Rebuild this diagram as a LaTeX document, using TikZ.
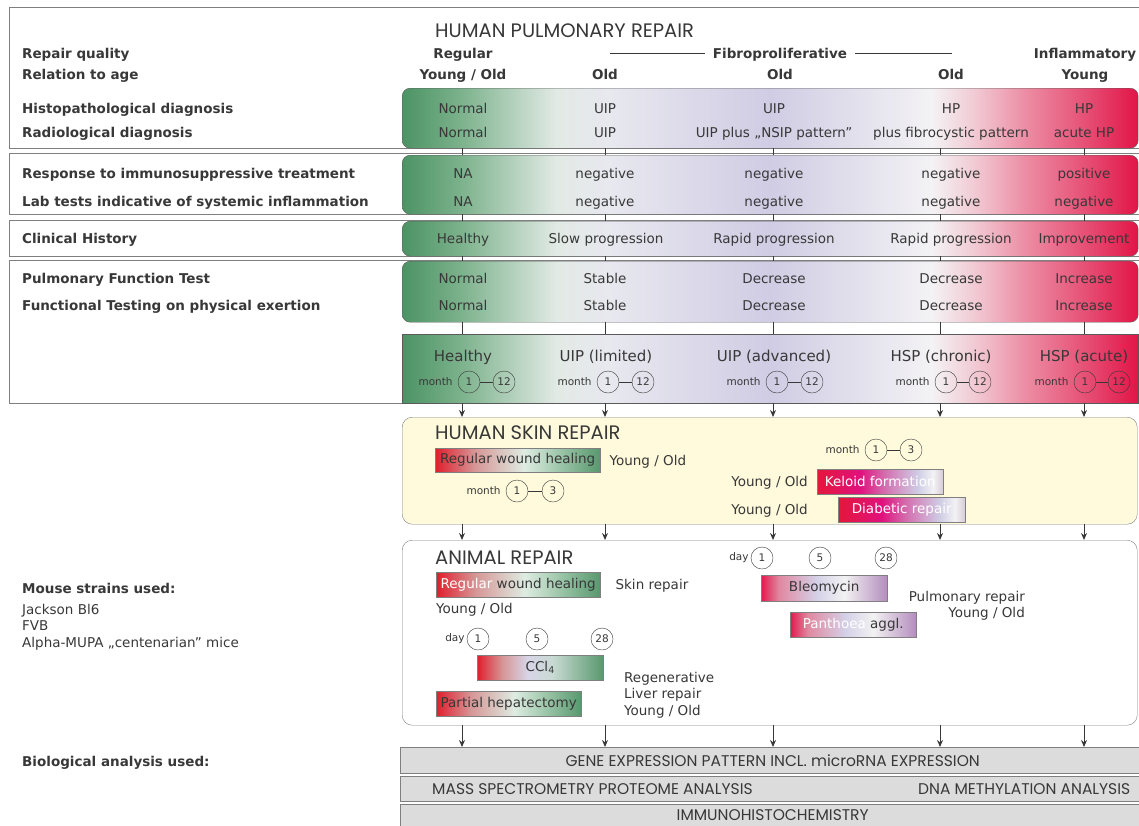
\documentclass[tikz,border=0pt]{standalone}
\usepackage{fontspec}
\setmainfont{DejaVu Sans}
\newfontfamily\headfont{Poppins}
\usetikzlibrary{positioning,arrows.meta}
\definecolor{ink}{HTML}{383838}
\definecolor{framegray}{HTML}{7F7F7F}
\definecolor{baredge}{HTML}{5A5A5A}
\definecolor{skincream}{HTML}{FFFADC}
\definecolor{assaygray}{HTML}{DCDCDC}
\definecolor{pgreenA}{RGB}{76,147,100}
\definecolor{pgreenB}{RGB}{124,178,140}
\definecolor{pwhiteA}{RGB}{226,234,229}
\definecolor{pwhiteB}{RGB}{232,232,239}
\definecolor{plav}{RGB}{208,204,228}
\definecolor{pwhiteC}{RGB}{243,242,244}
\definecolor{ppinkA}{RGB}{241,200,210}
\definecolor{ppinkB}{RGB}{236,138,162}
\definecolor{ppinkC}{RGB}{230,78,116}
\definecolor{pred}{RGB}{225,21,71}
\definecolor{wred}{RGB}{224,30,45}
\definecolor{wpink}{RGB}{214,150,150}
\definecolor{wmint}{RGB}{222,236,226}
\definecolor{wgreenA}{RGB}{160,200,172}
\definecolor{wgreenB}{RGB}{88,152,110}
\definecolor{kred}{RGB}{228,23,58}
\definecolor{kmagenta}{RGB}{224,17,125}
\definecolor{kviolet}{RGB}{212,112,176}
\definecolor{klav}{RGB}{207,205,229}
\definecolor{kwhite}{RGB}{243,242,244}
\definecolor{kend}{RGB}{214,202,214}
\definecolor{bcrimson}{RGB}{226,26,78}
\definecolor{bpink}{RGB}{224,136,160}
\definecolor{blav}{RGB}{212,209,232}
\definecolor{bwhite}{RGB}{242,242,242}
\definecolor{bpurple}{RGB}{180,140,190}
\definecolor{clav}{RGB}{216,213,232}
\definecolor{cmint}{RGB}{200,218,210}
\pgfdeclarehorizontalshading{pulmoshade}{100bp}{color(0bp)=(pgreenA); color(25bp)=(pgreenA); color(29bp)=(pgreenB); color(35.5bp)=(pwhiteA); color(39bp)=(pwhiteB); color(50bp)=(plav); color(61bp)=(pwhiteC); color(64bp)=(ppinkA); color(67.5bp)=(ppinkB); color(71.5bp)=(ppinkC); color(75bp)=(pred); color(100bp)=(pred)}
\pgfdeclarehorizontalshading{woundshade}{100bp}{color(0bp)=(wred); color(25bp)=(wred); color(37bp)=(wpink); color(52bp)=(wmint); color(62bp)=(wgreenA); color(75bp)=(wgreenB); color(100bp)=(wgreenB)}
\pgfdeclarehorizontalshading{keloidshade}{100bp}{color(0bp)=(kred); color(25bp)=(kred); color(42bp)=(kmagenta); color(52bp)=(kviolet); color(65bp)=(klav); color(71bp)=(kwhite); color(75bp)=(kend); color(100bp)=(kend)}
\pgfdeclarehorizontalshading{bleoshade}{100bp}{color(0bp)=(bcrimson); color(25bp)=(bcrimson); color(32bp)=(bpink); color(47bp)=(blav); color(58bp)=(bwhite); color(75bp)=(bpurple); color(100bp)=(bpurple)}
\pgfdeclarehorizontalshading{cclshade}{100bp}{color(0bp)=(wred); color(25bp)=(wred); color(35bp)=(wpink); color(45bp)=(clav); color(55bp)=(cmint); color(75bp)=(wgreenB); color(100bp)=(wgreenB)}
\tikzset{
    frame-box/.style = {draw=framegray, fill=white, rectangle, anchor=north west, inner sep=0pt, minimum width=1136pt},
    pulmo-bar/.style = {draw=baredge, shade, shading=pulmoshade, rectangle, rounded corners=8pt, anchor=north west, inner sep=0pt, minimum width=736pt},
    repair-box/.style = {draw=framegray, rectangle, rounded corners=10pt, anchor=north west, inner sep=0pt, minimum width=735pt},
    grad-box/.style = {draw=framegray, shade, rectangle, anchor=north west, inner sep=0pt, minimum height=25pt, text=ink, font=\fontsize{13.5}{15}\selectfont},
    assay-box/.style = {draw=framegray, fill=assaygray, rectangle, anchor=north west, inner sep=0pt, minimum width=745pt, text=ink, font=\headfont\fontsize{15.5}{17}\selectfont},
    assay-text/.style = {text=ink, font=\headfont\fontsize{15.5}{17}\selectfont, inner sep=0pt},
    head/.style = {anchor=west, inner sep=0pt, text=ink, font=\headfont\fontsize{19.5}{22}\selectfont},
    row-label/.style = {anchor=west, inner sep=0pt, text=ink, font=\bfseries\fontsize{13.5}{16}\selectfont, text height=10pt, text depth=0pt},
    col-head/.style = {inner sep=0pt, text=ink, font=\bfseries\fontsize{13.5}{16}\selectfont, text height=10pt, text depth=0pt},
    cell/.style = {inner sep=0pt, text=ink, font=\fontsize{13.5}{16}\selectfont, text height=10pt, text depth=0pt},
    big-cell/.style = {inner sep=0pt, text=ink, font=\fontsize{15}{18}\selectfont, text height=11pt, text depth=0pt},
    note/.style = {inner sep=0pt, text=ink, font=\fontsize{13.5}{16.5}\selectfont},
    tick-circle/.style = {circle, draw=ink, minimum size=22pt, inner sep=0pt, text=ink, font=\fontsize{10.5}{12}\selectfont},
    tick-label/.style = {inner sep=0pt, text=ink, font=\fontsize{10.5}{12}\selectfont},
    col-line/.style = {draw=ink, line width=0.9pt},
    col-arrow/.style = {draw=ink, line width=0.9pt, -{Stealth[length=7pt,width=6pt]}},
}
\begin{document}
\begin{tikzpicture}[x=1pt,y=-1pt]
\useasboundingbox (0,0) rectangle (1139,825);

\node[frame-box, minimum height=141pt] (pulmo-frame) at (9,7) {};
\node[frame-box, minimum height=61pt] (resp-frame) at (9,153) {};
\node[frame-box, minimum height=36pt] (clin-frame) at (9,220) {};
\node[frame-box, minimum height=143pt] (func-frame) at (9,260) {};

\node[pulmo-bar, minimum height=60pt] (diag-bar) at (402,88) {};
\node[pulmo-bar, minimum height=59pt] (resp-bar) at (402,155) {};
\node[pulmo-bar, minimum height=35pt] (clin-bar) at (402,221) {};
\node[pulmo-bar, minimum height=61pt] (func-bar) at (402,261) {};
\node[pulmo-bar, sharp corners, minimum height=69pt] (model-bar) at (402,334) {};

\node[head] (pulmo-title) at (435,31) {HUMAN PULMONARY REPAIR};
\node[row-label] (quality-label) at (22,53) {Repair quality};
\node[row-label] (age-label) at (22,74) {Relation to age};
\node[col-head] (regular) at (463,53) {Regular};
\node[col-head] (fibro) at (780,53) {Fibroproliferative};
\node[col-head] (inflam) at (1085,53) {Inflammatory};
\coordinate (fibro-l) at (610,53);
\coordinate (fibro-r) at (952,53);
\draw[ink, line width=0.7pt, shorten >=8pt] (fibro-l) -- (fibro.west);
\draw[ink, line width=0.7pt, shorten <=8pt] (fibro.east) -- (fibro-r);
\node[col-head] (age1) at (463,74) {Young / Old};
\node[col-head] (age2) at (605,74) {Old};
\node[col-head] (age3) at (780,74) {Old};
\node[col-head] (age4) at (951,74) {Old};
\node[col-head] (age5) at (1085,74) {Young};

\node[row-label] (hist-label) at (22,108) {Histopathological diagnosis};
\node[row-label] (rad-label) at (22,132) {Radiological diagnosis};
\node[cell] (hist1) at (463,108) {Normal};
\node[cell] (hist2) at (605,108) {UIP};
\node[cell] (hist3) at (774,108) {UIP};
\node[cell] (hist4) at (951,108) {HP};
\node[cell] (hist5) at (1084,108) {HP};
\node[cell] (rad1) at (463,132) {Normal};
\node[cell] (rad2) at (605,132) {UIP};
\node[cell] (rad3) at (774,132) {UIP plus „NSIP pattern”};
\node[cell] (rad4) at (951,132) {plus fibrocystic pattern};
\node[cell] (rad5) at (1084,132) {acute HP};

\node[row-label] (resp-label) at (22,173) {Response to immunosuppressive treatment};
\node[row-label] (lab-label) at (22,201) {Lab tests indicative of systemic inflammation};
\node[cell] (resp1) at (463,173) {NA};
\node[cell] (resp2) at (605,173) {negative};
\node[cell] (resp3) at (774,173) {negative};
\node[cell] (resp4) at (951,173) {negative};
\node[cell] (resp5) at (1084,173) {positive};
\node[cell] (lab1) at (463,201) {NA};
\node[cell] (lab2) at (605,201) {negative};
\node[cell] (lab3) at (774,201) {negative};
\node[cell] (lab4) at (951,201) {negative};
\node[cell] (lab5) at (1084,201) {negative};

\node[row-label] (clin-label) at (22,238) {Clinical History};
\node[cell] (clin1) at (463,238) {Healthy};
\node[cell] (clin2) at (606,238) {Slow progression};
\node[cell] (clin3) at (774,238) {Rapid progression};
\node[cell] (clin4) at (951,238) {Rapid progression};
\node[cell] (clin5) at (1084,238) {Improvement};

\node[row-label] (pft-label) at (22,278) {Pulmonary Function Test};
\node[row-label] (fte-label) at (22,305) {Functional Testing on physical exertion};
\node[cell] (pft1) at (463,278) {Normal};
\node[cell] (pft2) at (605,278) {Stable};
\node[cell] (pft3) at (774,278) {Decrease};
\node[cell] (pft4) at (951,278) {Decrease};
\node[cell] (pft5) at (1084,278) {Increase};
\node[cell] (fte1) at (463,305) {Normal};
\node[cell] (fte2) at (605,305) {Stable};
\node[cell] (fte3) at (774,305) {Decrease};
\node[cell] (fte4) at (951,305) {Decrease};
\node[cell] (fte5) at (1084,305) {Increase};

\node[big-cell] (model1) at (463,356) {Healthy};
\node[big-cell] (model2) at (606,356) {UIP (limited)};
\node[big-cell] (model3) at (774,356) {UIP (advanced)};
\node[big-cell] (model4) at (941,356) {HSP (chronic)};
\node[big-cell] (model5) at (1084,356) {HSP (acute)};
\node[tick-circle] (ma1) at (469,382) {1};
\node[tick-circle] (mb1) at (504,382) {12};
\node[tick-circle] (ma2) at (608,382) {1};
\node[tick-circle] (mb2) at (643,382) {12};
\node[tick-circle] (ma3) at (777,382) {1};
\node[tick-circle] (mb3) at (812,382) {12};
\node[tick-circle] (ma4) at (946,382) {1};
\node[tick-circle] (mb4) at (980,382) {12};
\node[tick-circle] (ma5) at (1085,382) {1};
\node[tick-circle] (mb5) at (1119,382) {12};
\node[tick-label, left=5pt of ma1] (mo1) {month};
\node[tick-label, left=5pt of ma2] (mo2) {month};
\node[tick-label, left=5pt of ma3] (mo3) {month};
\node[tick-label, left=5pt of ma4] (mo4) {month};
\node[tick-label, left=5pt of ma5] (mo5) {month};
\draw[ink] (ma1) -- (mb1);
\draw[ink] (ma2) -- (mb2);
\draw[ink] (ma3) -- (mb3);
\draw[ink] (ma4) -- (mb4);
\draw[ink] (ma5) -- (mb5);

\node[repair-box, fill=skincream, minimum height=107pt] (skin-box) at (402,417) {};
\node[head] (skin-title) at (435,433) {HUMAN SKIN REPAIR};
\node[grad-box, shading=woundshade, minimum width=165pt, minimum height=24pt] (skin-wound) at (435,448) {Regular wound healing};
\node[cell, right=9pt of skin-wound] (skin-wound-age) {Young / Old};
\node[tick-circle] (ska) at (517,491) {1};
\node[tick-circle] (skb) at (553,491) {3};
\node[tick-label, left=5pt of ska] (skm) {month};
\draw[ink] (ska) -- (skb);
\node[tick-circle] (kla) at (876,450) {1};
\node[tick-circle] (klb) at (911,450) {3};
\node[tick-label, left=5pt of kla] (klm) {month};
\draw[ink] (kla) -- (klb);
\node[grad-box, shading=keloidshade, text=white, minimum width=126pt] (keloid) at (817,469) {Keloid formation};
\node[cell, left=9pt of keloid] (keloid-age) {Young / Old};
\node[grad-box, shading=keloidshade, text=white, minimum width=127pt] (diabetic) at (838,497) {Diabetic repair};
\node[cell, anchor=east] (diabetic-age) at (keloid-age.east |- diabetic) {Young / Old};

\node[repair-box, fill=white, minimum height=185pt] (animal-box) at (402,540) {};
\node[head] (animal-title) at (435,558) {ANIMAL REPAIR};
\node[grad-box, shading=woundshade, minimum width=164pt] (animal-wound) at (436,572) {\textcolor{white}{Regular} wound healing};
\node[cell, right=15pt of animal-wound] (skin-repair) {Skin repair};
\node[cell, anchor=west] (animal-wound-age) at (436,608) {Young / Old};
\node[tick-circle] (da1) at (478,639) {1};
\node[tick-circle] (da5) at (537,639) {5};
\node[tick-circle] (da28) at (602,639) {28};
\node[tick-label, left=2pt of da1] (dam) {day};
\node[grad-box, shading=cclshade, minimum width=126pt] (ccl) at (477,655) {CCl\textsubscript{4}};
\node[grad-box, shading=woundshade, minimum width=145pt] (hepatectomy) at (436,691) {Partial hepatectomy};
\node[note, align=left, anchor=west] (liver-repair) at (624,695) {Regenerative\\Liver repair\\Young / Old};
\node[tick-circle] (db1) at (762,558) {1};
\node[tick-circle] (db5) at (820,558) {5};
\node[tick-circle] (db28) at (886,558) {28};
\node[tick-label, left=2pt of db1] (dbm) {day};
\node[grad-box, shading=bleoshade, minimum width=126pt, minimum height=26pt] (bleomycin) at (761,575) {Bleomycin};
\node[grad-box, shading=bleoshade, minimum width=126pt] (panthoea) at (790,612) {\textcolor{white}{Panthoea} aggl.};
\node[note, align=right, anchor=east] (pulmo-repair) at (1025,606) {Pulmonary repair\\Young / Old};

\node[row-label] (mouse-label) at (22,588) {Mouse strains used:};
\node[note, align=left, anchor=north west] (mouse-list) at (22,604) {Jackson Bl6\\FVB\\Alpha-MUPA „centenarian” mice};
\node[row-label] (bio-label) at (22,761) {Biological analysis used:};

\node[assay-box, minimum height=26pt] (gene-box) at (400,747) {GENE EXPRESSION PATTERN INCL. microRNA EXPRESSION};
\node[assay-box, minimum height=25pt] (mass-box) at (400,776) {};
\node[assay-text, right=32pt of mass-box.west] (mass-text) {MASS SPECTROMETRY PROTEOME ANALYSIS};
\node[assay-text, left=15pt of mass-box.east] (dna-text) {DNA METHYLATION ANALYSIS};
\node[assay-box, minimum height=22pt] (immuno-box) at (400,804) {IMMUNOHISTOCHEMISTRY};

\coordinate (k1) at (462,0);
\coordinate (k2) at (605,0);
\coordinate (k3) at (773,0);
\coordinate (k4) at (940,0);
\coordinate (k5) at (1084,0);
\foreach \k in {k1,k2,k3,k4,k5} {
  \draw[col-line] (diag-bar.south -| \k) -- (resp-bar.north -| \k);
  \draw[col-line] (resp-bar.south -| \k) -- (clin-bar.north -| \k);
  \draw[col-line] (clin-bar.south -| \k) -- (func-bar.north -| \k);
  \draw[col-line] (func-bar.south -| \k) -- (model-bar.north -| \k);
  \draw[col-arrow] (model-bar.south -| \k) -- (skin-box.north -| \k);
  \draw[col-arrow] (skin-box.south -| \k) -- (animal-box.north -| \k);
  \draw[col-arrow] (animal-box.south -| \k) -- (gene-box.north -| \k);
}
\end{tikzpicture}
\end{document}
